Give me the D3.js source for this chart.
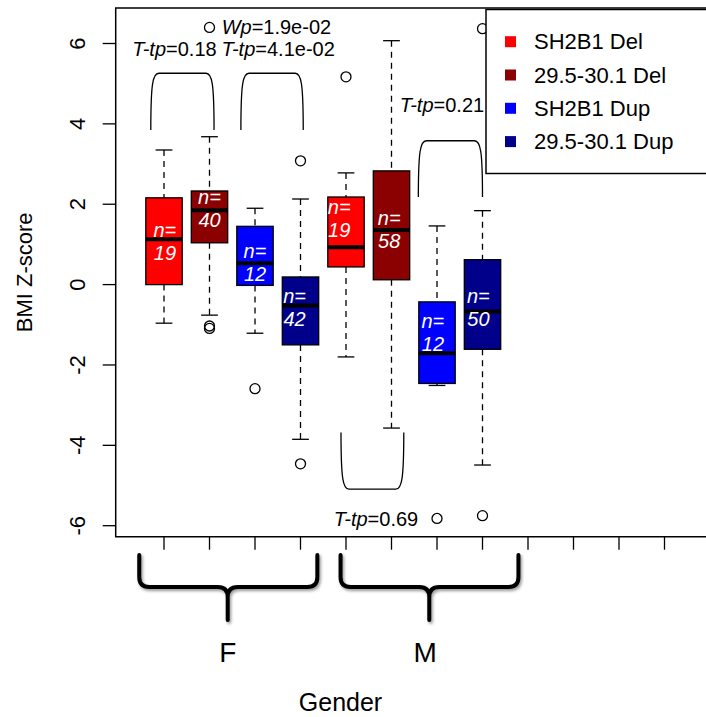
<!DOCTYPE html>
<html>
<head>
<meta charset="utf-8">
<script src="https://cdn.jsdelivr.net/npm/d3@7"></script>
<style>
  body { margin: 0; background: #fff; }
  text { font-family: "Liberation Sans", Arial, sans-serif; }
</style>
</head>
<body>
<div id="chart"></div>
<script>
// groups and series
const genders = ["F", "M"];
const series = ["SH2B1 Del", "29.5-30.1 Del", "SH2B1 Dup", "29.5-30.1 Dup"];
const seriesColors = ["#ff0000", "#8b0000", "#0000ff", "#00008b"];

// box stats, in plotting order (F: 4 series, then M: 4 series)
const boxPos = [1, 2, 3, 4, 5, 6, 7, 8];
const whiskerLow = [-0.96, -0.76, -1.21, -3.85, -1.80, -3.57, -2.51, -4.49];
const q1 = [0.00, 1.04, -0.02, -1.50, 0.44, 0.12, -2.46, -1.61];
const medians = [1.13, 1.85, 0.53, -0.52, 0.93, 1.36, -1.71, -0.67];
const q3 = [2.16, 2.33, 1.45, 0.19, 2.18, 2.83, -0.43, 0.62];
const whiskerHigh = [3.35, 3.68, 1.90, 2.13, 2.78, 6.07, 1.46, 1.84];
const outliers = [[], [-1.03, -1.09, 6.40], [-2.59], [3.08, -4.46], [5.17], [], [-5.82], [6.37, -5.75]];
const counts = [19, 40, 12, 42, 19, 58, 12, 50];
const countLabelY = [1.08, 1.90, 0.55, -0.58, 1.64, 1.38, -1.18, -0.58];
const countLabelDx = [0.02, 0, 0, -0.13, -0.15, -0.05, -0.09, -0.09];

// test brackets (x in box positions, y in z-score)
const brackets = [
    { x1: 0.71, x2: 2.10, legs: 3.85, bar: 5.26 },
    { x1: 2.69, x2: 4.06, legs: 3.85, bar: 5.26 },
    { x1: 6.59, x2: 8.00, legs: 2.18, bar: 3.58 },
    { x1: 4.89, x2: 6.27, legs: -3.68, bar: -5.09 }
];
const pvalues = [
    { stat: "Wp", val: "=1.9e-02", x: 3.47, y: 6.42 },
    { stat: "T-tp", val: "=0.18", x: 1.23, y: 5.86 },
    { stat: "T-tp", val: "=4.1e-02", x: 3.51, y: 5.86 },
    { stat: "T-tp", val: "=0.21", x: 7.11, y: 4.47 },
    { stat: "T-tp", val: "=0.69", x: 5.66, y: -5.83 }
];

// gender braces below the axis
const braceSpan = [[0.456, 4.37], [4.88, 8.79]];
const braceTip = [2.40, 6.83];
const genderLabelPos = [2.40, 6.74];

const yTicks = [-6, -4, -2, 0, 2, 4, 6];
const xTicks = d3.range(1, 14);

const width = 706, height = 717;
const plotLeft = 115.7, plotTop = 8, plotBottom = 536.7;

const svg = d3.select("#chart").append("svg")
    .attr("width", width)
    .attr("height", height);

const x = d3.scaleLinear().domain([1, 12]).range([164, 664.5]);
const y = d3.scaleLinear().domain([-6, 6]).range([525.7, 43.5]);
const step = x(2) - x(1);
const boxW = step * 0.8;

// plot frame (runs off the right edge)
svg.append("path")
    .attr("d", `M${width + 20},${plotTop} H${plotLeft} V${plotBottom} H${width + 20}`)
    .attr("fill", "none")
    .attr("stroke", "#000")
    .attr("stroke-width", 1.5);

// y axis
svg.selectAll(".ytick").data(yTicks).enter().append("line")
    .attr("x1", plotLeft - 13).attr("x2", plotLeft)
    .attr("y1", d => y(d)).attr("y2", d => y(d))
    .attr("stroke", "#000").attr("stroke-width", 1.3);
svg.selectAll(".ylab").data(yTicks).enter().append("text")
    .attr("transform", d => `translate(85,${y(d)}) rotate(-90)`)
    .attr("text-anchor", "middle")
    .attr("font-size", 22)
    .text(d => d);
svg.append("text")
    .attr("transform", `translate(31.5,${(plotTop + plotBottom) / 2}) rotate(-90)`)
    .attr("text-anchor", "middle")
    .attr("font-size", 22)
    .text("BMI Z-score");

// x ticks
svg.selectAll(".xtick").data(xTicks).enter().append("line")
    .attr("x1", d => x(d)).attr("x2", d => x(d))
    .attr("y1", plotBottom).attr("y2", plotBottom + 13)
    .attr("stroke", "#000").attr("stroke-width", 1.3);

// boxes
const boxes = svg.selectAll(".box").data(boxPos).enter().append("g");
boxes.append("line")
    .attr("x1", d => x(d)).attr("x2", d => x(d))
    .attr("y1", (d, i) => y(whiskerHigh[i])).attr("y2", (d, i) => y(q3[i]))
    .attr("stroke", "#000").attr("stroke-width", 1.3).attr("stroke-dasharray", "6,5");
boxes.append("line")
    .attr("x1", d => x(d)).attr("x2", d => x(d))
    .attr("y1", (d, i) => y(q1[i])).attr("y2", (d, i) => y(whiskerLow[i]))
    .attr("stroke", "#000").attr("stroke-width", 1.3).attr("stroke-dasharray", "6,5");
[whiskerHigh, whiskerLow].forEach(arr => {
    boxes.append("line")
        .attr("x1", d => x(d) - boxW * 0.23).attr("x2", d => x(d) + boxW * 0.23)
        .attr("y1", (d, i) => y(arr[i])).attr("y2", (d, i) => y(arr[i]))
        .attr("stroke", "#000").attr("stroke-width", 1.3);
});
boxes.append("rect")
    .attr("x", d => x(d) - boxW / 2)
    .attr("width", boxW)
    .attr("y", (d, i) => y(q3[i]))
    .attr("height", (d, i) => y(q1[i]) - y(q3[i]))
    .attr("fill", (d, i) => seriesColors[i % 4])
    .attr("stroke", "#000").attr("stroke-width", 1.3);
boxes.append("line")
    .attr("x1", d => x(d) - boxW / 2).attr("x2", d => x(d) + boxW / 2)
    .attr("y1", (d, i) => y(medians[i])).attr("y2", (d, i) => y(medians[i]))
    .attr("stroke", "#000").attr("stroke-width", 4);
boxes.each(function(d, i) {
    d3.select(this).selectAll("circle").data(outliers[i]).enter().append("circle")
        .attr("cx", x(d)).attr("cy", v => y(v)).attr("r", 5)
        .attr("fill", "none").attr("stroke", "#000").attr("stroke-width", 1.3);
});
const nText = boxes.append("text")
    .attr("fill", "#fff")
    .attr("font-size", 20)
    .attr("font-style", "italic")
    .attr("text-anchor", "middle");
nText.append("tspan")
    .attr("x", (d, i) => x(d + countLabelDx[i]))
    .attr("y", (d, i) => y(countLabelY[i]) - 4.5)
    .text("n=");
nText.append("tspan")
    .attr("x", (d, i) => x(d + countLabelDx[i]))
    .attr("y", (d, i) => y(countLabelY[i]) + 18.5)
    .text((d, i) => counts[i]);

// brackets
svg.selectAll(".bracket").data(brackets).enter().append("path")
    .attr("d", b => {
        const x1 = x(b.x1), x2 = x(b.x2), yl = y(b.legs), yb = y(b.bar);
        const s = yl > yb ? 1 : -1;
        return `M${x1},${yl} C${x1},${yb + 10 * s} ${x1 + 2},${yb} ${x1 + 8},${yb} ` +
               `L${x2 - 8},${yb} C${x2 - 2},${yb} ${x2},${yb + 10 * s} ${x2},${yl}`;
    })
    .attr("fill", "none").attr("stroke", "#000").attr("stroke-width", 1.3);

const pt = svg.selectAll(".pval").data(pvalues).enter().append("text")
    .attr("x", d => x(d.x)).attr("y", d => y(d.y))
    .attr("dy", "0.35em")
    .attr("text-anchor", "middle")
    .attr("font-size", 20);
pt.append("tspan").attr("font-style", "italic").text(d => d.stat);
pt.append("tspan").text(d => d.val);

// legend
const legend = svg.append("g");
legend.append("rect")
    .attr("x", 486).attr("y", 9.5).attr("width", 260).attr("height", 164)
    .attr("fill", "#fff").attr("stroke", "#000").attr("stroke-width", 1.5);
series.forEach((s, i) => {
    const ly = 41.7 + i * 33.3;
    legend.append("rect")
        .attr("x", 505).attr("y", ly - 5.5).attr("width", 11).attr("height", 11)
        .attr("fill", seriesColors[i]);
    legend.append("text")
        .attr("x", 534).attr("y", ly).attr("dy", "0.35em")
        .attr("font-size", 22)
        .text(s);
});

// gender braces
const defs = svg.append("defs");
defs.append("filter").attr("id", "soft")
    .append("feGaussianBlur").attr("stdDeviation", 1.5);
const braceTop = 555, braceMid = 587, braceBot = 620, r = 10;
genders.forEach((g, i) => {
    const x1 = x(braceSpan[i][0]), x2 = x(braceSpan[i][1]), xm = x(braceTip[i]);
    const d = `M${x1},${braceTop} L${x1},${braceMid - r} Q${x1},${braceMid} ${x1 + r},${braceMid} ` +
              `L${xm - r},${braceMid} Q${xm},${braceMid} ${xm},${braceMid + r} L${xm},${braceBot} ` +
              `M${xm},${braceMid + r} Q${xm},${braceMid} ${xm + r},${braceMid} ` +
              `L${x2 - r},${braceMid} Q${x2},${braceMid} ${x2},${braceMid - r} L${x2},${braceTop}`;
    svg.append("path").attr("d", d)
        .attr("transform", "translate(1.5,2)")
        .attr("fill", "none").attr("stroke", "#999").attr("stroke-width", 4)
        .attr("stroke-linecap", "round").attr("filter", "url(#soft)");
    svg.append("path").attr("d", d)
        .attr("fill", "none").attr("stroke", "#000").attr("stroke-width", 4)
        .attr("stroke-linecap", "round");
    svg.append("text")
        .attr("x", x(genderLabelPos[i])).attr("y", 661.7)
        .attr("text-anchor", "middle")
        .attr("font-size", 28)
        .text(g);
});

svg.append("text")
    .attr("x", 340.5).attr("y", 710.5)
    .attr("text-anchor", "middle")
    .attr("font-size", 25)
    .text("Gender");
</script>
</body>
</html>
